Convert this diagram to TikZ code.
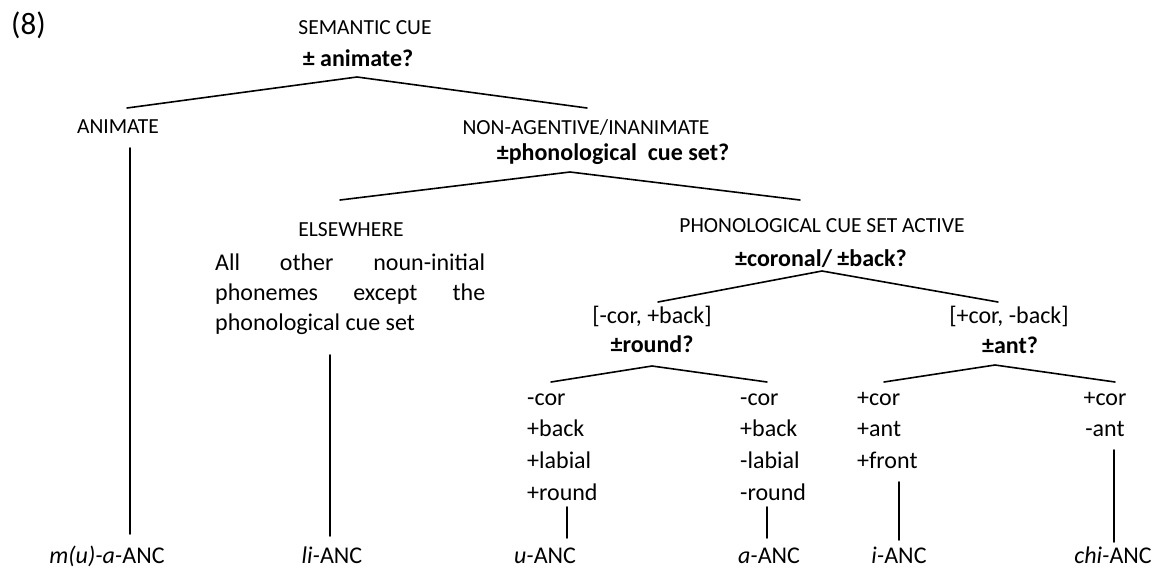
\documentclass[tikz,border=0pt]{standalone}
\usepackage{fontspec}
\setmainfont{Carlito}
\tikzset{
  txt/.style={inner sep=0pt, anchor=base, font=\fontsize{24}{30}\selectfont},
  capslab/.style={inner sep=0pt, anchor=base, font=\fontsize{21.5}{26}\selectfont},
  qlab/.style={inner sep=0pt, anchor=base, font=\fontsize{24}{30}\selectfont\bfseries},
  feat/.style={inner sep=0pt, anchor=base west, font=\fontsize{24}{30}\selectfont},
  branch/.style={line width=1.6pt, line cap=round},
}
\begin{document}
\begin{tikzpicture}[x=1pt,y=-1pt]
\useasboundingbox (0,0) rectangle (1159,571);
% label
\node[inner sep=0pt, anchor=base west, font=\fontsize{31}{36}\selectfont] (num) at (11,34) {(8)};
% root
\node[capslab] (semcue) at (365,34) {SEMANTIC CUE};
\node[qlab] (anim) at (358,66) {± animate?};
\coordinate (rA) at (357,77);
\coordinate (rL) at (127,108);
\coordinate (rR) at (587,108);
\draw[branch] (rL) -- (rA) -- (rR);
% animate branch
\node[capslab] (animate) at (118,133) {ANIMATE};
\coordinate (aT) at (130,148);
\coordinate (aB) at (130,534);
\draw[branch] (aT) -- (aB);
\node[txt] (mua) at (107,563) {\textit{m(u)-a-}ANC};
% non-agentive
\node[capslab] (nonag) at (586,134) {NON-AGENTIVE/INANIMATE};
\node[qlab] (phq) at (613,160) {±phonological\ \ cue set?};
\coordinate (pA) at (570,172);
\coordinate (pL) at (340,200);
\coordinate (pR) at (800,200);
\draw[branch] (pL) -- (pA) -- (pR);
% elsewhere
\node[capslab] (else) at (351,236) {ELSEWHERE};
\node[inner sep=0pt, anchor=base west, font=\fontsize{24}{30}\selectfont] (p1) at (215,270) {\makebox[270pt][s]{All other noun-initial}};
\node[inner sep=0pt, anchor=base west, font=\fontsize{24}{30}\selectfont] (p2) at (215,300) {\makebox[270pt][s]{phonemes except the}};
\node[inner sep=0pt, anchor=base west, font=\fontsize{24}{30}\selectfont] (p3) at (215,330) {phonological cue set};
\coordinate (eT) at (330,355);
\coordinate (eB) at (330,536);
\draw[branch] (eT) -- (eB);
\node[txt] (li) at (332,563) {\textit{li-}ANC};
% phonological cue set active
\node[capslab] (pcsa) at (822,232) {PHONOLOGICAL CUE SET ACTIVE};
\node[qlab] (corq) at (821,266) {±coronal/ ±back?};
\coordinate (cA) at (822,271);
\coordinate (cL) at (658,302);
\coordinate (cR) at (998,302);
\draw[branch] (cL) -- (cA) -- (cR);
% -cor +back
\node[txt] (cb) at (652,323) {[-cor, +back]};
\node[qlab] (rq) at (652,352) {±round?};
\coordinate (oA) at (652,366);
\coordinate (oL) at (551,382);
\coordinate (oR) at (767,382);
\draw[branch] (oL) -- (oA) -- (oR);
% +cor -back
\node[txt] (cf) at (1009,323) {[+cor, -back]};
\node[qlab] (aq) at (1010,353) {±ant?};
\coordinate (nA) at (995,365);
\coordinate (nL) at (884,382);
\coordinate (nR) at (1115,382);
\draw[branch] (nL) -- (nA) -- (nR);
% column 1
\node[feat] (c1a) at (527,405) {-cor};
\node[feat] (c1b) at (527,436) {+back};
\node[feat] (c1c) at (527,468) {+labial};
\node[feat] (c1d) at (527,500) {+round};
\coordinate (uT) at (567,507);
\coordinate (uB) at (567,538);
\draw[branch] (uT) -- (uB);
\node[txt] (uanc) at (545,563) {\textit{u-}ANC};
% column 2
\node[feat] (c2a) at (740,405) {-cor};
\node[feat] (c2b) at (740,436) {+back};
\node[feat] (c2c) at (740,468) {-labial};
\node[feat] (c2d) at (740,500) {-round};
\coordinate (vT) at (767,507);
\coordinate (vB) at (767,538);
\draw[branch] (vT) -- (vB);
\node[txt] (aanc) at (769,563) {\textit{a-}ANC};
% column 3
\node[feat] (c3a) at (857,405) {+cor};
\node[feat] (c3b) at (857,436) {+ant};
\node[feat] (c3c) at (857,468) {+front};
\coordinate (iT) at (899,482);
\coordinate (iB) at (899,540);
\draw[branch] (iT) -- (iB);
\node[txt] (ianc) at (899,563) {\textit{i-}ANC};
% column 4
\node[txt] (c4a) at (1105,405) {+cor};
\node[txt] (c4b) at (1105,436) {-ant};
\coordinate (hT) at (1114,450);
\coordinate (hB) at (1114,542);
\draw[branch] (hT) -- (hB);
\node[txt] (chi) at (1113,563) {\textit{chi-}ANC};
\end{tikzpicture}
\end{document}
